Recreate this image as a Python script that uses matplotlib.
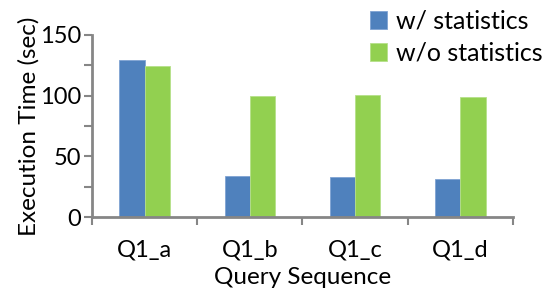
import matplotlib
matplotlib.use("Agg")
import matplotlib.pyplot as plt
import numpy as np

categories = ["Q1_a", "Q1_b", "Q1_c", "Q1_d"]
with_stats = [129, 33.5, 32.7, 31.6]
without_stats = [124.5, 100, 100.5, 99.2]
series_names = ["w/ statistics", "w/o statistics"]

plt.rcParams['font.family'] = ['Lato', 'DejaVu Sans']
fig = plt.figure(figsize=(5.48, 2.93), dpi=100)
ax = fig.add_axes([0.168, 0.259, 0.768, 0.622])

x = np.arange(len(categories))
w = 0.24
blue = "#4F81BD"
green = "#92D050"
ax.bar(x - w/2, with_stats, w, color=blue, edgecolor="#7FA3D3", linewidth=0.6, label=series_names[0])
ax.bar(x + w/2, without_stats, w, color=green, edgecolor="#B6E08A", linewidth=0.6, label=series_names[1])

ax.set_xlim(-0.5, len(categories) - 0.5)
ax.set_ylim(0, 150)
gray = "#868686"
for s in ["top", "right"]:
    ax.spines[s].set_visible(False)
for s in ["left", "bottom"]:
    ax.spines[s].set_color(gray)
    ax.spines[s].set_linewidth(2)

fs = 17
ax.set_yticks([0, 50, 100, 150])
ax.set_yticks([25, 75, 125], minor=True)
ax.tick_params(axis='y', which='both', direction='out', length=6, width=1.5, color=gray, labelsize=fs, pad=2)

ax.set_xticks(np.arange(-0.5, len(categories), 1.0))
ax.set_xticklabels([])
ax.set_xticks(x, minor=True)
ax.set_xticklabels(categories, minor=True)
ax.tick_params(axis='x', which='major', direction='out', length=6, width=1.5, color=gray)
ax.tick_params(axis='x', which='minor', length=0, labelsize=fs, pad=16)

ax.set_ylabel("Execution Time (sec)", fontsize=17.5, labelpad=0)
ax.set_xlabel("Query Sequence", fontsize=17.5, labelpad=5)

leg = ax.legend(loc="upper left", bbox_to_anchor=(0.67, 0.975), bbox_transform=fig.transFigure,
                frameon=False, fontsize=18, handlelength=0.7, handleheight=0.7,
                handletextpad=0.35, labelspacing=0.35, borderaxespad=0, borderpad=0.1)

fig.savefig("out.png", dpi=100)
